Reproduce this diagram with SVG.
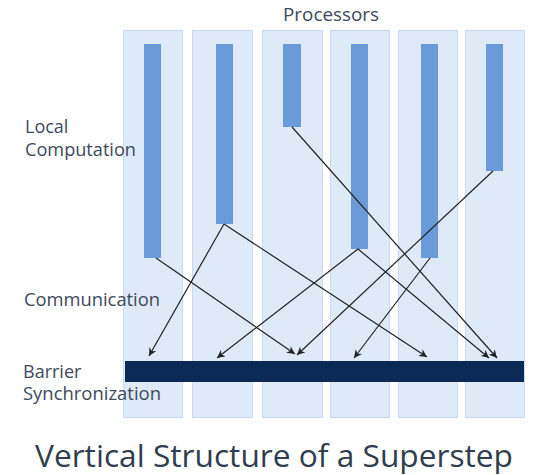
<svg xmlns="http://www.w3.org/2000/svg" width="533" height="475" viewBox="0 0 533 475">
<style>
.col{fill:#dfeaf8;stroke:#c9dbf2;stroke-width:1}
.bar{fill:#6a9bd8}
.lbl{font-family:"Open Sans","Noto Sans",sans-serif;font-size:18px;fill:#3d4a5c}
.title{font-family:"Open Sans","Noto Sans",sans-serif;font-size:31px;fill:#2f3d4e}
.arr{stroke:#222;stroke-width:1.2;fill:none;marker-end:url(#ah)}
</style>
<defs>
<marker id="ah" viewBox="0 0 10 10" refX="10" refY="5" markerWidth="8" markerHeight="8" markerUnits="userSpaceOnUse" orient="auto">
<path d="M0,0 L10,5 L0,10 L3,5 z" fill="#222"/>
</marker>
</defs>
<rect width="533" height="475" fill="#fff"/>
<g id="p1"><rect class="col" x="123.5" y="30.5" width="59" height="387"/><rect class="bar" x="144" y="44" width="17" height="214"/></g>
<g id="p2"><rect class="col" x="192.5" y="30.5" width="60" height="387"/><rect class="bar" x="216" y="44" width="17" height="180"/></g>
<g id="p3"><rect class="col" x="262.5" y="30.5" width="60" height="387"/><rect class="bar" x="283" y="44" width="18" height="83"/></g>
<g id="p4"><rect class="col" x="330.5" y="30.5" width="59" height="387"/><rect class="bar" x="351" y="44" width="17" height="205"/></g>
<g id="p5"><rect class="col" x="398.5" y="30.5" width="59" height="387"/><rect class="bar" x="421" y="44" width="17" height="214"/></g>
<g id="p6"><rect class="col" x="465.5" y="30.5" width="59" height="387"/><rect class="bar" x="486" y="44" width="17" height="127"/></g>
<g id="barrier"><rect x="125" y="361" width="399" height="21" fill="#0b2a55"/></g>
<g id="connectors">
<line class="arr" x1="156" y1="258" x2="295" y2="354"/>
<line class="arr" x1="224" y1="224" x2="149" y2="356"/>
<line class="arr" x1="224" y1="224" x2="427" y2="357"/>
<line class="arr" x1="292" y1="127" x2="497" y2="358"/>
<line class="arr" x1="358" y1="249" x2="217" y2="358"/>
<line class="arr" x1="358" y1="249" x2="489" y2="358"/>
<line class="arr" x1="430" y1="258" x2="354" y2="358"/>
<line class="arr" x1="493" y1="171" x2="297" y2="355"/>
</g>
<g id="labels">
<text class="lbl" x="283" y="21" textLength="96" lengthAdjust="spacingAndGlyphs">Processors</text>
<text class="lbl" x="25" y="133">Local</text>
<text class="lbl" x="25" y="156" textLength="111" lengthAdjust="spacingAndGlyphs">Computation</text>
<text class="lbl" x="24" y="306" textLength="136" lengthAdjust="spacingAndGlyphs">Communication</text>
<text class="lbl" x="23" y="378">Barrier</text>
<text class="lbl" x="23" y="400" textLength="138" lengthAdjust="spacingAndGlyphs">Synchronization</text>
<text class="title" x="35" y="467" textLength="478" lengthAdjust="spacingAndGlyphs">Vertical Structure of a Superstep</text>
</g>
</svg>
